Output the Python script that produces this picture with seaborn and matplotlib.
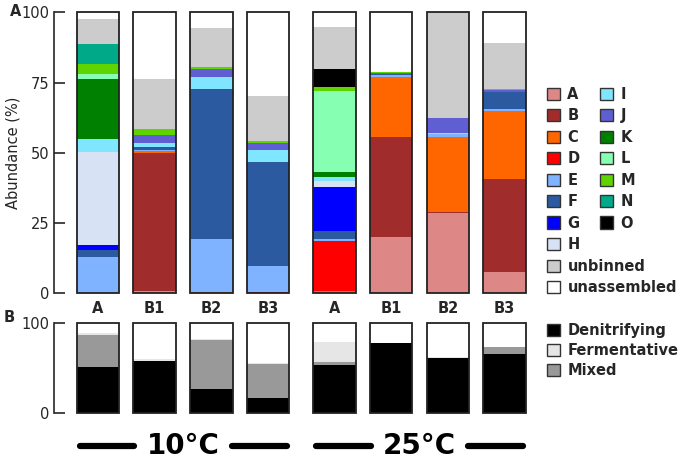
import numpy as np
import pandas as pd
import matplotlib
matplotlib.use("Agg")
import matplotlib.pyplot as plt
import matplotlib.transforms as mtransforms
from matplotlib.patches import Patch
import seaborn as sns

# samples, two temperature groups of four
samples = ["A", "B1", "B2", "B3", "A", "B1", "B2", "B3"]
positions = [0, 1, 2, 3, 4.17, 5.17, 6.17, 7.17]
temps = ["10°C", "25°C"]

# panel A: abundance (%) of each bin, stacked bottom -> top
bins = ["A", "B", "C", "D", "E", "F", "G", "H", "I", "J", "K", "L", "M", "N", "O",
        "unbinned", "unassembled"]
bin_colors = ["#de8787", "#a02c2c", "#ff6600", "#ff0000", "#80b3ff", "#2c5aa0",
              "#0000ff", "#d7e3f4", "#80e5ff", "#5f5fd3", "#008000", "#87ffb3",
              "#5fd400", "#00aa88", "#000000", "#cccccc", "#ffffff"]
bin_A = [0, 0.8, 0, 0, 0, 20.2, 28.7, 7.7]
bin_B = [0, 49.1, 0, 0, 0, 35.3, 0.4, 33.0]
bin_C = [0, 0.6, 0.3, 0, 0.8, 21.4, 26.7, 24.2]
bin_D = [0, 0, 0, 0.5, 17.7, 0, 0, 0]
bin_E = [13.0, 0.6, 19.0, 9.2, 0.8, 0.7, 0.9, 0.8]
bin_F = [2.4, 0.9, 53.4, 37.2, 2.7, 0.5, 0, 6.0]
bin_G = [1.9, 0, 0, 0, 16.0, 0, 0, 0]
bin_H = [32.9, 0, 0, 0, 1.9, 0, 0, 0]
bin_I = [4.7, 1.4, 4.4, 4.1, 1.4, 0, 0.5, 0]
bin_J = [0, 3.1, 2.7, 2.6, 0, 0.3, 5.3, 0.8]
bin_K = [21.5, 0, 0, 0, 1.8, 0, 0, 0]
bin_L = [1.5, 0, 0, 0, 29.0, 0, 0, 0]
bin_M = [3.8, 2.0, 0.6, 0.6, 1.4, 0.3, 0, 0.3]
bin_N = [7.1, 0, 0, 0, 0, 0, 0, 0]
bin_O = [0, 0, 0, 0, 6.2, 0, 0, 0]
unbinned = [8.8, 17.7, 13.9, 16.1, 15.0, 0, 37.5, 16.1]
unassembled = [2.4, 23.8, 5.7, 29.7, 5.3, 21.3, 0, 11.4]

# panel B: metabolic groups (%)
groups = ["Denitrifying", "Mixed", "Fermentative"]
group_colors = ["#000000", "#999999", "#e6e6e6"]
denitrifying = [51.9, 58.5, 27.0, 16.7, 53.7, 77.8, 61.9, 65.6]
mixed = [35.1, 0, 54.5, 38.1, 3.7, 0, 0, 7.7]
fermentative = [1.9, 1.9, 1.5, 1.5, 22.2, 0.3, 0.3, 0.8]

W, H = 680, 459
sns.set_style("ticks")
plt.rcParams["font.family"] = ["DejaVu Sans"]
fig = plt.figure(figsize=(W / 100, H / 100), dpi=100)


def px_axes(left, right, top, bottom, pad_units, span):
    # axes rect from pixel bounds of the 0..span range, with a little y padding
    ppu = (bottom - top) / span
    t = top - pad_units * ppu
    b = bottom + pad_units * ppu
    return fig.add_axes([left / W, 1 - b / H, (right - left) / W, (b - t) / H])


def stacked(ax, layers, colors):
    values = np.array(layers, dtype=float)
    cum = np.cumsum(values, axis=0)
    df = pd.DataFrame({"pos": np.repeat([positions], len(layers), axis=0).ravel(),
                       "layer": np.repeat(np.arange(len(layers)), len(positions)),
                       "top": cum.ravel()})
    for i in reversed(range(len(layers))):
        sub = df[df["layer"] == i]
        sns.barplot(data=sub, x="pos", y="top", color=colors[i], native_scale=True,
                    width=0.75, saturation=1, errorbar=None, orient="x",
                    linewidth=0, ax=ax)
    sns.barplot(x=positions, y=[100] * len(positions), color="#222222", fill=False,
                native_scale=True, width=0.75, errorbar=None, orient="x",
                linewidth=1.3, ax=ax)


x0 = -0.776
x1 = 7.62
pad = 0.6

ax1 = px_axes(54, 530, 12.3, 293.3, pad, 100)
stacked(ax1, [bin_A, bin_B, bin_C, bin_D, bin_E, bin_F, bin_G, bin_H, bin_I, bin_J,
              bin_K, bin_L, bin_M, bin_N, bin_O, unbinned, unassembled], bin_colors)
ax1.set_xlim(x0, x1)
ax1.set_ylim(-pad, 100 + pad)
ax1.set_yticks([0, 25, 50, 75, 100])
ax1.set_xticks(positions)
ax1.set_xticklabels(samples, fontweight="bold", fontsize=10.5)
ax1.tick_params(axis="x", length=0, pad=4)
ax1.tick_params(axis="y", direction="in", length=8, width=1.2, pad=3, labelsize=10.5)
ax1.set_xlabel("")
ax1.set_ylabel("Abundance (%)", fontsize=10.5)
ax1.yaxis.set_label_coords(-0.071, 0.5)
for s in ["top", "right", "bottom"]:
    ax1.spines[s].set_visible(False)
ax1.spines["left"].set_bounds(0, 100)
ax1.spines["left"].set_linewidth(1.2)

ax2 = px_axes(54, 530, 323.3, 413.3, pad * 2, 100)
stacked(ax2, [denitrifying, mixed, fermentative], group_colors)
ax2.set_xlim(x0, x1)
ax2.set_ylim(-pad * 2, 100 + pad * 2)
ax2.set_yticks([0, 100])
ax2.set_xticks([])
ax2.set_xlabel("")
ax2.set_ylabel("")
ax2.tick_params(axis="y", direction="in", length=8, width=1.2, pad=3, labelsize=10.5)
for s in ["top", "right", "bottom"]:
    ax2.spines[s].set_visible(False)
ax2.spines["left"].set_bounds(0, 100)
ax2.spines["left"].set_linewidth(1.2)

# temperature group labels with bars either side
tr = mtransforms.blended_transform_factory(ax2.transData, ax2.transAxes)
yline = (413.3 - 444) / 90
for k, label in enumerate(temps):
    g0 = positions[4 * k] - 0.375 + 0.05
    g1 = positions[4 * k + 3] + 0.375 - 0.05
    mid = (positions[4 * k] + positions[4 * k + 3]) / 2
    ax2.text(mid, yline, label, transform=tr, ha="center", va="center",
             fontsize=20, fontweight="bold", color="black")
    for a, b in [(g0, mid - 0.86), (mid + 0.86, g1)]:
        ax2.plot([a, b], [yline, yline], transform=tr, color="black", lw=4.5,
                 solid_capstyle="round", clip_on=False)

fig.text(16 / W, 1 - 12 / H, "A", fontsize=10.5, fontweight="bold", ha="center", va="center")
fig.text(9 / W, 1 - 317 / H, "B", fontsize=10.5, fontweight="bold", ha="center", va="center")

leg_kw = dict(loc="upper left", frameon=False, borderpad=0, borderaxespad=0,
              handlelength=0.9, handleheight=0.9, handletextpad=0.5,
              prop={"weight": "bold", "size": 10.5})
letters = [Patch(facecolor=c, edgecolor="#333333", linewidth=1, label=b)
           for b, c in zip(bins[:15], bin_colors[:15])]
rest = [Patch(facecolor=c, edgecolor="#333333", linewidth=1, label=b)
        for b, c in zip(bins[15:], bin_colors[15:])]
fig.legend(handles=letters, ncol=2, columnspacing=1.4, labelspacing=0.44,
           bbox_to_anchor=(547 / W, 1 - 87 / H), **leg_kw)
fig.legend(handles=rest, labelspacing=0.44,
           bbox_to_anchor=(547 / W, 1 - 258.8 / H), **leg_kw)
grp = [Patch(facecolor=c, edgecolor="#333333", linewidth=1, label=g)
       for g, c in zip(["Denitrifying", "Fermentative", "Mixed"],
                       ["#000000", "#e6e6e6", "#999999"])]
fig.legend(handles=grp, labelspacing=0.34,
           bbox_to_anchor=(547 / W, 1 - 323.2 / H), **leg_kw)

fig.savefig("out.png", dpi=100)
